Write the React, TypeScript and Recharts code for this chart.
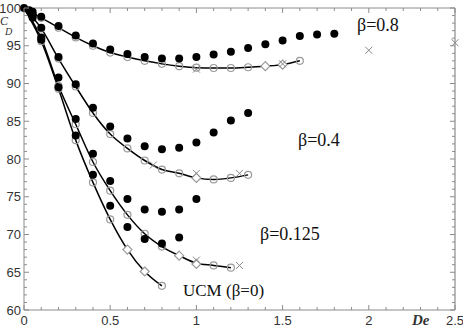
import { ComposedChart, Line, ReferenceDot, ReferenceLine, Scatter, XAxis, YAxis } from 'recharts'

const xTicks = [
  0, 0.1, 0.2, 0.3, 0.4, 0.5, 0.6, 0.7, 0.8, 0.9, 1, 1.1, 1.2, 1.3, 1.4, 1.5, 1.6, 1.7, 1.8, 1.9,
  2, 2.1, 2.2, 2.3, 2.4, 2.5,
]
const yTicks = [
  60, 61, 62, 63, 64, 65, 66, 67, 68, 69, 70, 71, 72, 73, 74, 75, 76, 77, 78, 79, 80, 81, 82, 83,
  84, 85, 86, 87, 88, 89, 90, 91, 92, 93, 94, 95, 96, 97, 98, 99, 100,
]
const X_MAX = 2.5

// beta = 0.8
const b08Filled = [
  [0, 100], [0.03, 99.7], [0.05, 99.5], [0.1, 98.85], [0.2, 97.6], [0.3, 96.35], [0.4, 95.3],
  [0.5, 94.5], [0.6, 93.9], [0.7, 93.5], [0.8, 93.3], [0.9, 93.3], [1, 93.5], [1.1, 93.85],
  [1.2, 94.2], [1.3, 94.7], [1.4, 95.2], [1.5, 95.7], [1.6, 96.3], [1.7, 96.5], [1.8, 96.6],
]
const b08Curve = [
  [0, 100], [0.1, 98.7], [0.2, 97.4], [0.3, 96.1], [0.4, 95.0], [0.5, 94.1], [0.6, 93.5],
  [0.7, 93.0], [0.8, 92.6], [0.9, 92.3], [1, 92.1], [1.1, 92.05], [1.2, 92.05], [1.3, 92.15],
  [1.4, 92.3], [1.5, 92.5], [1.6, 93.0],
]
const b08Open = [
  [0.1, 98.7], [0.2, 97.4], [0.3, 96.1], [0.4, 95.0], [0.5, 94.1], [0.6, 93.5], [0.7, 93.0],
  [0.8, 92.6], [0.9, 92.3], [1, 92.1], [1.1, 92.05], [1.2, 92.05], [1.3, 92.15], [1.6, 93.0],
]
const b08Diamond = [[1.4, 92.3], [1.5, 92.5]]
const b08Cross = [[1, 91.9], [1.5, 92.6], [2, 94.4], [2.5, 95.4]]

// beta = 0.4
const b04Filled = [
  [0.05, 99.2], [0.1, 97.4], [0.2, 93.5], [0.3, 89.9], [0.4, 86.8], [0.5, 84.3], [0.6, 82.7],
  [0.7, 81.7], [0.8, 81.3], [0.9, 81.5], [1, 82.2], [1.1, 83.5], [1.2, 85.1], [1.3, 86.1],
]
const b04Curve = [
  [0, 100], [0.1, 97.3], [0.2, 93.3], [0.3, 89.6], [0.4, 86.1], [0.5, 83.3], [0.6, 81.4],
  [0.7, 79.8], [0.8, 78.6], [0.9, 78.1], [1, 77.5], [1.1, 77.3], [1.2, 77.5], [1.3, 77.9],
]
const b04Open = [
  [0.1, 97.3], [0.2, 93.3], [0.3, 89.6], [0.4, 86.1], [0.5, 83.3], [0.6, 81.4], [0.7, 79.8],
  [0.8, 78.6], [0.9, 78.1], [1.1, 77.3], [1.2, 77.5], [1.3, 77.9],
]
const b04Diamond = [[1, 77.5]]
const b04Cross = [[0.75, 79.2], [1, 78.1], [1.25, 78.1]]

// beta = 0.125
const b0125Filled = [
  [0.05, 98.9], [0.1, 96.1], [0.2, 90.8], [0.3, 85.3], [0.4, 80.7], [0.5, 77.1], [0.6, 74.7],
  [0.7, 73.3], [0.8, 73.0], [0.9, 73.3], [1, 74.7],
]
const b0125Curve = [
  [0, 100], [0.1, 96.0], [0.2, 89.7], [0.3, 84.6], [0.4, 79.6], [0.5, 75.8], [0.6, 72.6],
  [0.7, 70.1], [0.8, 68.4], [0.9, 67.2], [1, 66.2], [1.1, 65.9], [1.2, 65.6],
]
const b0125Open = [
  [0.1, 96.0], [0.2, 89.7], [0.3, 84.6], [0.4, 79.6], [0.5, 75.8], [0.6, 72.6], [0.7, 70.1],
  [0.8, 68.4], [1.1, 65.9], [1.2, 65.6],
]
const b0125Diamond = [[0.9, 67.2], [1, 66.1]]
const b0125Cross = [[1, 66.6], [1.25, 65.9]]

// UCM (beta = 0)
const ucmFilled = [
  [0.05, 98.7], [0.1, 95.8], [0.2, 89.5], [0.3, 83.1], [0.4, 77.9], [0.5, 73.8], [0.6, 71.0],
  [0.7, 69.4], [0.8, 68.8], [0.9, 69.6],
]
const ucmCurve = [
  [0, 100], [0.1, 95.6], [0.2, 89.3], [0.3, 82.5], [0.4, 76.9], [0.5, 72.0], [0.6, 68.0],
  [0.7, 65.1], [0.8, 63.2],
]
const ucmOpen = [[0.1, 95.6], [0.2, 89.3], [0.3, 82.5], [0.4, 76.9], [0.5, 72.0], [0.8, 63.2]]
const ucmDiamond = [[0.6, 68.0], [0.7, 65.1]]

const pts = (arr: number[][]) => arr.map(([x, y]) => ({ x, y }))

const AXIS = '#8c8c8c'
const LABEL = '#333'
const SANS = '"Liberation Sans", Arial, sans-serif'
const SERIF = '"Liberation Serif", "Times New Roman", serif'

const isMajorX = (v: number) => Math.abs(v * 2 - Math.round(v * 2)) < 1e-6
const isMajorY = (v: number) => v % 5 === 0

const BottomTick = (props: any) => {
  const { x, y, payload } = props
  const v = payload.value
  const major = isMajorX(v)
  return (
    <g>
      <line x1={x} y1={y} x2={x} y2={y - (major ? 5 : 3)} stroke={AXIS} />
      {major && (
        <text x={x} y={y + 15} textAnchor="middle" fontSize={13} fill={LABEL} fontFamily={SANS}>
          {v}
        </text>
      )}
    </g>
  )
}

const TopTick = (props: any) => {
  const { x, y, payload } = props
  const major = isMajorX(payload.value)
  return <line x1={x} y1={y} x2={x} y2={y + (major ? 5 : 3)} stroke={AXIS} />
}

const LeftTick = (props: any) => {
  const { x, y, payload } = props
  const v = payload.value
  const major = isMajorY(v)
  return (
    <g>
      <line x1={x} y1={y} x2={x + (major ? 5 : 3)} y2={y} stroke={AXIS} />
      {major && (
        <text x={x - 3} y={y + 4.5} textAnchor="end" fontSize={13} fill={LABEL} fontFamily={SANS}>
          {v}
        </text>
      )}
    </g>
  )
}

// tick marks on the right frame, drawn inward from (2.5, v)
const rightTick = (major: boolean) => (p: any) => (
  <line x1={p.cx} y1={p.cy} x2={p.cx - (major ? 5 : 3)} y2={p.cy} stroke={AXIS} />
)

const FilledDot = (p: any) => <circle cx={p.cx} cy={p.cy} r={4} fill="#000" />
const OpenDot = (p: any) => (
  <circle cx={p.cx} cy={p.cy} r={3.5} fill="none" stroke="#999" strokeWidth={1.2} />
)
const DiamondDot = (p: any) => {
  const { cx, cy } = p
  const s = 4.5
  return (
    <path
      d={`M${cx},${cy - s}L${cx + s},${cy}L${cx},${cy + s}L${cx - s},${cy}Z`}
      fill="#fff"
      stroke="#999"
      strokeWidth={1.2}
    />
  )
}
const CrossDot = (p: any) => {
  const { cx, cy } = p
  const s = 3.5
  return (
    <path
      d={`M${cx - s},${cy - s}L${cx + s},${cy + s}M${cx - s},${cy + s}L${cx + s},${cy - s}`}
      stroke="#888"
      strokeWidth={1}
    />
  )
}
const NoDot = () => <g />

const curves = [b08Curve, b04Curve, b0125Curve, ucmCurve]
const openSets = [b08Open, b04Open, b0125Open, ucmOpen]
const diamondSets = [b08Diamond, b04Diamond, b0125Diamond, ucmDiamond]
const crossSets = [b08Cross, b04Cross, b0125Cross]
const filledSets = [b08Filled, b04Filled, b0125Filled, ucmFilled]

export default function App() {
  return (
    <div style={{ position: 'absolute', left: 0, top: 0, width: 463, height: 327, background: '#fff' }}>
      <ComposedChart width={463} height={327} margin={{ top: 7, right: 8, bottom: 0, left: 0 }}>
        <XAxis
          type="number"
          dataKey="x"
          domain={[0, X_MAX]}
          ticks={xTicks}
          interval={0}
          height={17}
          tickSize={0}
          tickMargin={0}
          tickLine={false}
          stroke={AXIS}
          tick={<BottomTick />}
        />
        <XAxis
          xAxisId="top"
          orientation="top"
          type="number"
          dataKey="x"
          domain={[0, X_MAX]}
          ticks={xTicks}
          interval={0}
          height={1}
          tickSize={0}
          tickMargin={0}
          tickLine={false}
          stroke={AXIS}
          tick={<TopTick />}
        />
        <YAxis
          type="number"
          dataKey="y"
          domain={[60, 100]}
          ticks={yTicks}
          interval={0}
          width={24}
          tickSize={0}
          tickMargin={0}
          tickLine={false}
          stroke={AXIS}
          tick={<LeftTick />}
        />
        {/* invisible series so the mirrored top axis gets drawn */}
        <Scatter xAxisId="top" data={pts(b08Cross)} dataKey="y" shape={NoDot} isAnimationActive={false} />
        <ReferenceLine x={X_MAX} stroke={AXIS} strokeWidth={1.2} ifOverflow="visible" />
        {yTicks.map((v) => (
          <ReferenceDot
            key={'rt' + v}
            x={X_MAX}
            y={v}
            ifOverflow="visible"
            shape={rightTick(isMajorY(v))}
          />
        ))}
        {curves.map((c, i) => (
          <Line
            key={'c' + i}
            data={pts(c)}
            dataKey="y"
            type="monotone"
            stroke="#000"
            strokeWidth={1.5}
            dot={false}
            activeDot={false}
            isAnimationActive={false}
          />
        ))}
        {openSets.map((s, i) => (
          <Scatter key={'o' + i} data={pts(s)} dataKey="y" shape={OpenDot} isAnimationActive={false} />
        ))}
        {diamondSets.map((s, i) => (
          <Scatter key={'d' + i} data={pts(s)} dataKey="y" shape={DiamondDot} isAnimationActive={false} />
        ))}
        {crossSets.map((s, i) => (
          <Scatter key={'x' + i} data={pts(s)} dataKey="y" shape={CrossDot} isAnimationActive={false} />
        ))}
        {filledSets.map((s, i) => (
          <Scatter key={'f' + i} data={pts(s)} dataKey="y" shape={FilledDot} isAnimationActive={false} />
        ))}
      </ComposedChart>
      <svg
        width={463}
        height={327}
        style={{ position: 'absolute', left: 0, top: 0, pointerEvents: 'none', overflow: 'hidden' }}
      >
        <text x={0} y={25} fontSize={12} fontStyle="italic" fill={LABEL} fontFamily={SERIF}>C</text>
        <text x={5} y={35} fontSize={10} fontStyle="italic" fill={LABEL} fontFamily={SERIF}>D</text>
        <text x={412} y={325} fontSize={15} fontStyle="italic" fontWeight="bold" fill={LABEL} fontFamily={SERIF}>De</text>
        <text x={357} y={31} fontSize={18} fill="#111" fontFamily={SERIF}>β=0.8</text>
        <text x={298} y={146} fontSize={18} fill="#111" fontFamily={SERIF}>β=0.4</text>
        <text x={260} y={240} fontSize={18} fill="#111" fontFamily={SERIF}>β=0.125</text>
        <text x={183} y={296} fontSize={17} fill="#111" fontFamily={SERIF}>UCM (β=0)</text>
      </svg>
    </div>
  )
}
